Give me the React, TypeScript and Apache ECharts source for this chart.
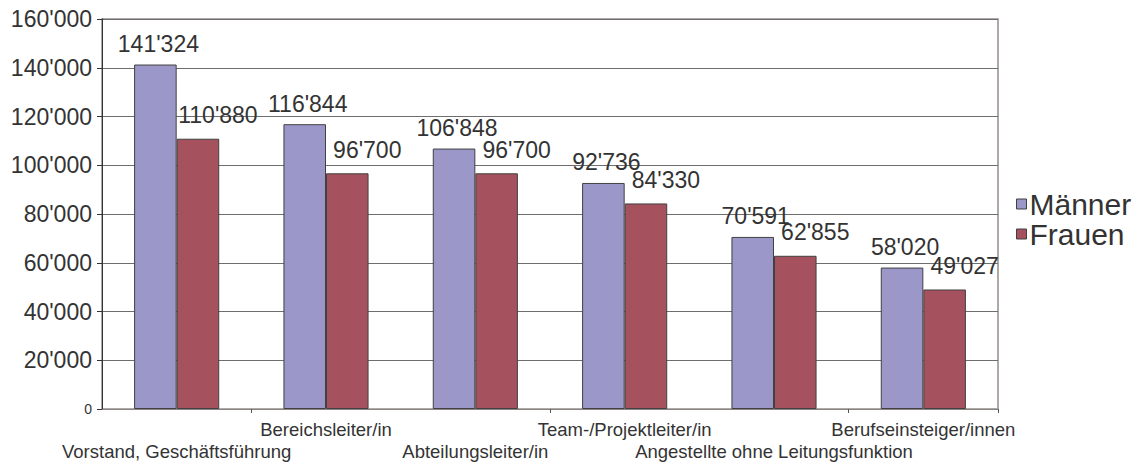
import React, { useEffect, useRef } from "react";
import * as echarts from "echarts";

const categories = [
  "Vorstand, Geschäftsführung",
  "Bereichsleiter/in",
  "Abteilungsleiter/in",
  "Team-/Projektleiter/in",
  "Angestellte ohne Leitungsfunktion",
  "Berufseinsteiger/innen",
];
const maenner = [141324, 116844, 106848, 92736, 70591, 58020];
const frauen = [110880, 96700, 96700, 84330, 62855, 49027];
const seriesNames = ["Männer", "Frauen"];

const FONT = "'Liberation Sans', Arial, Helvetica, sans-serif";
const fmt = (v: number) => String(v).replace(/\B(?=(\d{3})+(?!\d))/g, "'");

export default function App() {
  const ref = useRef<HTMLDivElement>(null);
  useEffect(() => {
    if (!ref.current) return;
    const chart = echarts.init(ref.current, undefined, { renderer: "svg" });
    const labelBase = {
      fontFamily: FONT,
      fontSize: 18.5,
      color: "#333333",
      verticalAlign: "top",
    };
    chart.setOption({
      animation: false,
      backgroundColor: "#ffffff",
      textStyle: { fontFamily: FONT, color: "#333333" },
      grid: {
        left: 102,
        right: 148,
        top: 19,
        bottom: 54,
        containLabel: false,
        outerBoundsMode: "none",
        show: true,
        borderColor: "#958e8b",
        borderWidth: 1.5,
      },
      legend: {
        orient: "vertical",
        left: 1011,
        top: 184,
        itemWidth: 10,
        itemHeight: 10,
        itemGap: 0,
        icon: "rect",
        data: seriesNames,
        textStyle: { fontFamily: FONT, fontSize: 30, lineHeight: 30, color: "#333333", padding: [0, 0, 0, -2] },
        itemStyle: { borderColor: "#404040", borderWidth: 1 },
      },
      xAxis: [
        {
          type: "category",
          data: categories,
          position: "bottom",
          boundaryGap: true,
          axisLine: { show: true, lineStyle: { color: "#8a8482", width: 1 } },
          axisTick: { show: true, length: 4, lineStyle: { color: "#555555" } },
          axisLabel: {
            ...labelBase,
            interval: (i: number) => i % 2 === 1,
            margin: 10,
            lineHeight: 20,
          },
        },
        {
          type: "category",
          data: categories,
          position: "bottom",
          offset: 0,
          boundaryGap: true,
          axisLine: { show: false },
          axisTick: { show: false },
          axisLabel: {
            ...labelBase,
            interval: (i: number) => i % 2 === 0,
            margin: 34,
            lineHeight: 16,
          },
        },
      ],
      yAxis: {
        type: "value",
        min: 0,
        max: 160000,
        interval: 20000,
        axisLine: { show: true, lineStyle: { color: "#333333", width: 1 } },
        axisTick: { show: true, length: 5, inside: false, lineStyle: { color: "#333333" } },
        splitLine: { show: true, lineStyle: { color: "#6e6e6e", width: 1 } },
        axisLabel: {
          margin: 10,
          fontFamily: FONT,
          fontSize: 23,
          color: "#333333",
          formatter: (v: number) => (v === 0 ? "{s|0}" : fmt(v)),
          rich: { s: { fontSize: 14, fontFamily: FONT, color: "#333333" } },
        },
      },
      series: [
        {
          name: seriesNames[0],
          type: "bar",
          xAxisIndex: 0,
          data: maenner,
          barGap: "0%",
          barCategoryGap: "43%",
          itemStyle: { color: "#9b97c9", borderColor: "#404040", borderWidth: 1 },
          label: {
            show: true,
            position: "top",
            distance: 5,
            offset: [3, -4],
            fontFamily: FONT,
            fontSize: 23,
            color: "#333333",
            formatter: (p: any) => fmt(p.value),
          },
        },
        {
          name: seriesNames[1],
          type: "bar",
          xAxisIndex: 0,
          data: frauen,
          barGap: "0%",
          barCategoryGap: "43%",
          itemStyle: { color: "#a5515e", borderColor: "#404040", borderWidth: 1 },
          label: {
            show: true,
            position: "top",
            distance: 5,
            offset: [20, -7],
            fontFamily: FONT,
            fontSize: 23,
            color: "#333333",
            formatter: (p: any) => fmt(p.value),
          },
        },
      ],
    });
    return () => chart.dispose();
  }, []);
  return (
    <div
      ref={ref}
      style={{ position: "absolute", left: 0, top: 0, width: 1146, height: 463 }}
    />
  );
}
